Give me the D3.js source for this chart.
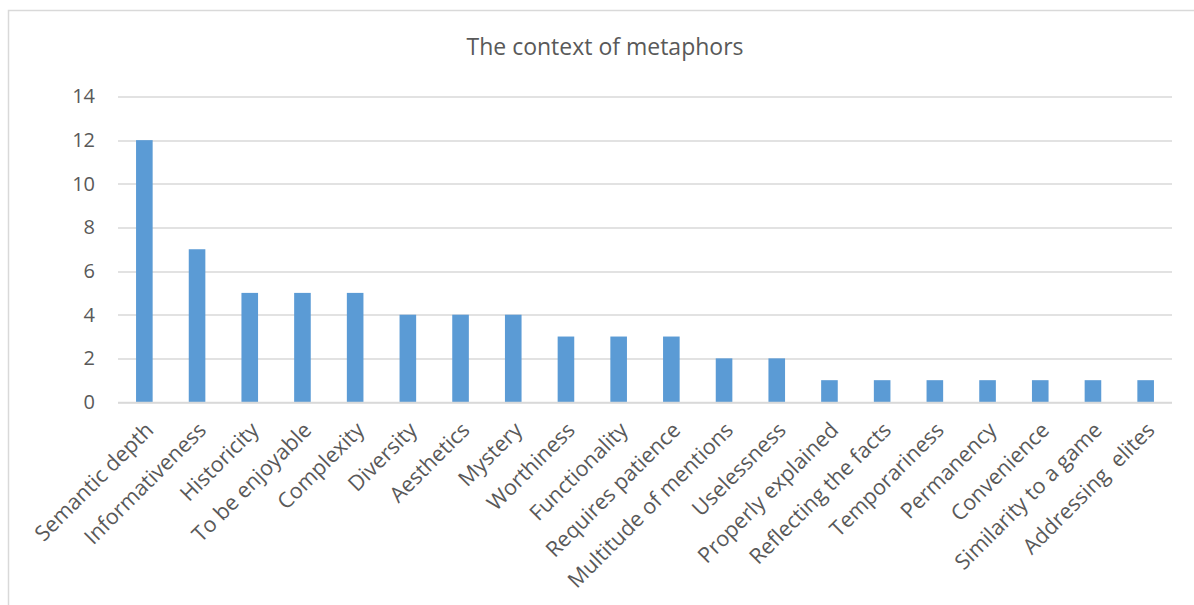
<!DOCTYPE html>
<html>
<head>
<meta charset="utf-8">
<script src="https://cdnjs.cloudflare.com/ajax/libs/d3/7.8.5/d3.min.js"></script>
<style>
  body { margin: 0; background: #fff; }
  text { font-family: "Open Sans", sans-serif; fill: #595959; }
</style>
</head>
<body>
<svg id="chart"></svg>
<script>
var categories = ["Semantic depth", "Informativeness", "Historicity", "To be enjoyable", "Complexity",
    "Diversity", "Aesthetics", "Mystery", "Worthiness", "Functionality", "Requires patience",
    "Multitude of mentions", "Uselessness", "Properly explained", "Reflecting the facts",
    "Temporariness", "Permanency", "Convenience", "Similarity to a game", "Addressing  elites"];
var counts = [12, 7, 5, 5, 5, 4, 4, 4, 3, 3, 3, 2, 2, 1, 1, 1, 1, 1, 1, 1];
var yTicks = [0, 2, 4, 6, 8, 10, 12, 14];

var width = 1194, height = 605;
var margin = { top: 96.5, right: 22, bottom: 203, left: 118 };
var w = width - margin.left - margin.right;
var h = height - margin.top - margin.bottom;

var svg = d3.select("#chart")
    .attr("width", width)
    .attr("height", height);

// chart border (runs off the right and bottom edge)
svg.append("rect")
    .attr("x", 8.5)
    .attr("y", 10.5)
    .attr("width", 1300)
    .attr("height", 800)
    .style("fill", "none")
    .style("stroke", "#d9d9d9")
    .style("stroke-width", 1.5);

svg.append("text")
    .attr("x", 605)
    .attr("y", 55)
    .attr("text-anchor", "middle")
    .style("font-size", "23px")
    .text("The context of metaphors");

var g = svg.append("g")
    .attr("transform", "translate(" + margin.left + "," + margin.top + ")");

var xscale = d3.scaleBand().domain(categories).range([0, w]).paddingInner(0.685).paddingOuter(0.3425);
var yscale = d3.scaleLinear().domain([0, 14]).range([h, 0]);

// grid lines
g.selectAll("line.ygrid")
    .data(yTicks)
    .enter()
    .append("line")
    .attr("class", "ygrid")
    .attr("x1", 0)
    .attr("x2", w)
    .attr("y1", function (d) { return Math.round(yscale(d)) + 0.5; })
    .attr("y2", function (d) { return Math.round(yscale(d)) + 0.5; })
    .attr("stroke", "#d9d9d9")
    .attr("stroke-width", 1.3);

// y axis labels
var yaxis = d3.axisLeft(yscale).tickValues(yTicks).tickSize(0).tickPadding(23);
g.append("g")
    .attr("class", "y-axis")
    .call(yaxis)
    .call(function (s) { s.select(".domain").remove(); })
    .selectAll("text")
    .style("font-size", "20px")
    .style("font-family", "'Open Sans', sans-serif")
    .attr("fill", "#595959");

// bars
g.selectAll("rect.bar")
    .data(counts)
    .enter()
    .append("rect")
    .attr("class", "bar")
    .attr("x", function (d, i) { return xscale(categories[i]); })
    .attr("y", function (d) { return yscale(d); })
    .attr("width", xscale.bandwidth())
    .attr("height", function (d) { return h - yscale(d); })
    .style("fill", "#5b9bd5");

// x axis line
g.append("line")
    .attr("x1", 0)
    .attr("x2", w)
    .attr("y1", h + 0.5)
    .attr("y2", h + 0.5)
    .attr("stroke", "#d9d9d9")
    .attr("stroke-width", 1.5);

// category labels
g.selectAll("text.cat")
    .data(categories)
    .enter()
    .append("text")
    .attr("class", "cat")
    .attr("text-anchor", "end")
    .attr("transform", function (d) {
        return "translate(" + (xscale(d) + xscale.bandwidth() / 2 - 1) + "," + (h + 18) + ") rotate(-45)";
    })
    .attr("dy", "0.75em")
    .style("font-size", "21.5px")
    .style("white-space", "pre")
    .text(function (d) { return d; });
</script>
</body>
</html>
